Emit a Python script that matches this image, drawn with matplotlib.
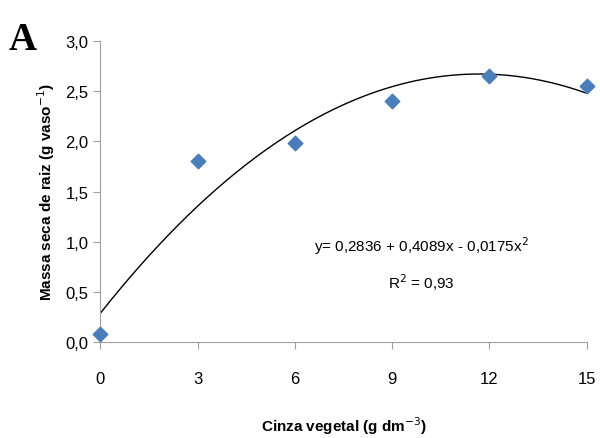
import numpy as np
import matplotlib.pyplot as plt

# ash doses and root dry mass
cinza = [0, 3, 6, 9, 12, 15]
massa = [0.08, 1.80, 1.98, 2.40, 2.65, 2.55]
coef = [0.2836, 0.4089, -0.0175]

fig = plt.figure(figsize=(6, 4.39), dpi=100)
ax = fig.add_axes([0.167, 0.219, 0.811, 0.685])

xs = np.linspace(0, 15, 200)
ax.plot(xs, coef[0] + coef[1]*xs + coef[2]*xs**2, color='black', lw=1)
ax.scatter(cinza, massa, marker='D', s=55, color='#4a7ebb', zorder=3, clip_on=False)

ax.set_xlim(0, 15)
ax.set_ylim(0, 3)
ax.set_xticks(cinza)
ax.set_yticks(np.arange(0, 3.01, 0.5))
ax.set_yticklabels(['0,0', '0,5', '1,0', '1,5', '2,0', '2,5', '3,0'])

for s in ['top', 'right']:
    ax.spines[s].set_visible(False)
for s in ['left', 'bottom']:
    ax.spines[s].set_color('#a0a0a0')
ax.tick_params(direction='out', color='#a0a0a0', length=5, labelsize=12,
               labelcolor='black')
ax.tick_params(axis='x', pad=16)
for lab in ax.get_xticklabels() + ax.get_yticklabels():
    lab.set_family('Liberation Sans')

ax.set_xlabel('Cinza vegetal (g dm$^{-3}$)', fontsize=11, fontweight='bold',
              family='Liberation Sans', labelpad=20)
ax.set_ylabel('Massa seca de raiz (g vaso$^{-1}$)', fontsize=11, fontweight='bold',
              family='Liberation Sans', labelpad=6)

ax.text(9.9, 0.96, 'y= 0,2836 + 0,4089x - 0,0175x$^2$',
        fontsize=11, ha='center', va='center', family='Liberation Sans')
ax.text(9.9, 0.60, 'R$^2$ = 0,93',
        fontsize=11, ha='center', va='center', family='Liberation Sans')

fig.text(0.015, 0.885, 'A', fontsize=28, fontweight='bold', family='Liberation Serif')

fig.savefig('out.png', dpi=100)
